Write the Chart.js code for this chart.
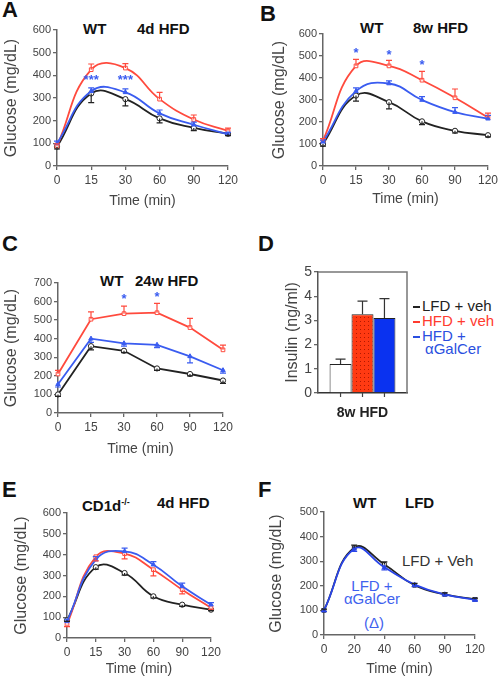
<!DOCTYPE html>
<html>
<head>
<meta charset="utf-8">
<script src="https://cdn.jsdelivr.net/npm/chart.js@4.4.1/dist/chart.umd.min.js"></script>
<style>
  html, body { margin: 0; padding: 0; overflow: hidden; background: #fff; }
  body { width: 500px; height: 680px; position: relative; font-family: 'Liberation Sans', Arial, sans-serif; }
  canvas { position: absolute; }
  .lt { position: absolute; font-weight: bold; font-size: 22px; line-height: 22px; color: #111; }
  .ti { position: absolute; font-weight: bold; font-size: 15px; line-height: 15px; color: #111; white-space: nowrap; }
  .tx { position: absolute; font-size: 15px; line-height: 15px; white-space: nowrap; }
  .dash { display: inline-block; width: 7px; height: 2px; vertical-align: middle; margin-right: 2px; }
  sup { font-size: 9px; }
</style>
</head>
<body>
<div class="lt" style="left:2px;top:-1px">A</div>
<div class="lt" style="left:260px;top:3px">B</div>
<div class="lt" style="left:2px;top:233px">C</div>
<div class="lt" style="left:258px;top:233px">D</div>
<div class="lt" style="left:2px;top:479px">E</div>
<div class="lt" style="left:258px;top:479px">F</div>

<div class="ti" style="left:83px;top:21px">WT</div>
<div class="ti" style="left:137px;top:21px">4d HFD</div>
<div class="ti" style="left:360px;top:20px">WT</div>
<div class="ti" style="left:413px;top:20px">8w HFD</div>
<div class="ti" style="left:100px;top:273px">WT</div>
<div class="ti" style="left:135px;top:273px">24w HFD</div>
<div class="ti" style="left:82px;top:495px">CD1d<sup>-/-</sup></div>
<div class="ti" style="left:157px;top:495px">4d HFD</div>
<div class="ti" style="left:353px;top:495px">WT</div>
<div class="ti" style="left:405px;top:495px">LFD</div>

<div class="tx" style="left:413px;top:298px;color:#222"><span class="dash" style="background:#222"></span>LFD + veh</div>
<div class="tx" style="left:413px;top:313px;color:#ff3b2f"><span class="dash" style="background:#ff3b2f"></span>HFD + veh</div>
<div class="tx" style="left:413px;top:328px;color:#2a4fe0"><span class="dash" style="background:#2a4fe0"></span>HFD +</div>
<div class="tx" style="left:425px;top:341px;color:#2a4fe0">αGalCer</div>

<div class="tx" style="left:402px;top:553px;color:#333">LFD + Veh</div>
<div class="tx" style="left:332px;top:578px;width:80px;text-align:center;color:#3f62ee">LFD +</div>
<div class="tx" style="left:332px;top:591px;width:80px;text-align:center;color:#3f62ee">αGalCer</div>
<div class="tx" style="left:334px;top:615px;width:80px;text-align:center;color:#3f62ee">(Δ)</div>

<canvas id="chartA"></canvas>
<canvas id="chartB"></canvas>
<canvas id="chartC"></canvas>
<canvas id="chartD"></canvas>
<canvas id="chartE"></canvas>
<canvas id="chartF"></canvas>

<script>
// time points
const timesHFD = ['0', '15', '30', '60', '90', '120'];
const timesLFD = ['0', '20', '40', '60', '90', '120'];

// A: WT 4d HFD
const lfdA = [85, 320, 295, 210, 168, 142];
const hfdA = [88, 425, 432, 295, 205, 155];
const galA = [100, 330, 325, 232, 182, 140];
const lfdErrA = [10, 40, 30, 20, 12, 8];
const hfdErrA = [10, 25, 20, 30, 20, 12];
const galErrA = [10, 15, 15, 15, 12, 8];
const starsA = [{i: 1, y: 390, text: '***'}, {i: 2, y: 390, text: '***'}];

// B: WT 8w HFD
const lfdB = [100, 320, 290, 203, 160, 140];
const hfdB = [115, 455, 455, 390, 310, 220];
const galB = [110, 340, 375, 300, 245, 215];
const lfdErrB = [10, 25, 30, 15, 10, 8];
const hfdErrB = [10, 30, 25, 40, 40, 20];
const galErrB = [8, 15, 12, 15, 20, 15];
const starsB = [{i: 1, y: 525, text: '*'}, {i: 2, y: 515, text: '*'}, {i: 3, y: 470, text: '*'}];

// C: WT 24w HFD
const lfdC = [100, 360, 335, 240, 210, 175];
const hfdC = [210, 505, 535, 540, 460, 340];
const galC = [155, 400, 375, 367, 305, 230];
const lfdErrC = [10, 20, 10, 10, 10, 15];
const hfdErrC = [20, 40, 40, 50, 50, 25];
const galErrC = [15, 20, 15, 15, 35, 15];
const starsC = [{i: 2, y: 630, text: '*'}, {i: 3, y: 640, text: '*'}];

// D: insulin, 8w HFD
const insulinCats = ['8w HFD'];
const insulinGroups = ['LFD + veh', 'HFD + veh', 'HFD + αGalCer'];
const insulinVals = [1.2, 3.25, 3.1];
const insulinErr = [0.2, 0.55, 0.8];

// E: CD1d-/- 4d HFD
const lfdE = [85, 340, 312, 200, 160, 136];
const hfdE = [65, 390, 405, 328, 232, 145];
const galE = [80, 376, 416, 352, 248, 160];
const lfdErrE = [5, 10, 10, 8, 8, 5];
const hfdErrE = [10, 20, 25, 30, 20, 10];
const galErrE = [10, 15, 15, 15, 15, 10];

// F: WT LFD
const lfdF = [100, 355, 287, 202, 165, 145];
const galF = [100, 350, 275, 205, 165, 143];
const lfdErrF = [5, 10, 10, 8, 6, 5];
const galErrF = [5, 10, 10, 8, 6, 5];

const BLACK = '#222', RED = '#ff4a3d', BLUE = '#3a5cf0', AXIS = '#666';
Chart.defaults.font.family = "'Liberation Sans', Arial, sans-serif";

const errorBars = {
  id: 'errorBars',
  afterDatasetsDraw(chart) {
    const ctx = chart.ctx, yScale = chart.scales.y;
    chart.data.datasets.forEach((ds, i) => {
      if (!ds.errors) return;
      chart.getDatasetMeta(i).data.forEach((el, j) => {
        const yEnd = yScale.getPixelForValue(ds.data[j] + ds.errDir * ds.errors[j]);
        const cap = ds.capW || 3;
        ctx.save();
        ctx.strokeStyle = ds.errColor || ds.borderColor;
        ctx.lineWidth = 1.2;
        ctx.beginPath();
        ctx.moveTo(el.x, el.y); ctx.lineTo(el.x, yEnd);
        ctx.moveTo(el.x - cap, yEnd); ctx.lineTo(el.x + cap, yEnd);
        ctx.stroke();
        ctx.restore();
      });
    });
  }
};

const stars = {
  id: 'stars',
  afterDraw(chart, args, opts) {
    if (!opts.items) return;
    const ctx = chart.ctx;
    ctx.save();
    ctx.fillStyle = BLUE;
    ctx.font = "bold 13px 'Liberation Sans', Arial, sans-serif";
    ctx.textAlign = 'center';
    ctx.textBaseline = 'middle';
    opts.items.forEach(s => {
      ctx.fillText(s.text, chart.scales.x.getPixelForValue(s.i), chart.scales.y.getPixelForValue(s.y) + 3);
    });
    ctx.restore();
  }
};

function series(label, data, errors, errDir, color, style) {
  return {
    label, data, errors, errDir,
    borderColor: color, backgroundColor: color,
    pointStyle: style, pointRadius: 2.6, pointBorderWidth: 1,
    pointBackgroundColor: style === 'triangle' ? color : '#fff',
    borderWidth: 1.8
  };
}

// g = plot box on the page
function glucoseChart(id, g, labels, datasets, yMax, tension, starItems) {
  const cv = document.getElementById(id);
  const cl = Math.round(g.yTitleX - (16 * 1.2 / 2 + 4));
  const ct = g.top - 14;
  const cb = Math.round(g.xTitleY + 14 * 1.2 / 2 + 4);
  const cr = g.right + 18;
  cv.width = cr - cl; cv.height = cb - ct;
  cv.style.left = cl + 'px'; cv.style.top = ct + 'px';
  const yW = g.left - cl, xH = cb - g.bottom;
  const grid = {display: true, drawOnChartArea: false, tickLength: 4, color: AXIS, lineWidth: 1.3};
  return new Chart(cv.getContext('2d'), {
    type: 'line',
    data: {labels, datasets},
    options: {
      responsive: false,
      animation: false,
      layout: {padding: {top: 14, right: 18, left: 0, bottom: 0}},
      elements: {line: {tension}},
      plugins: {legend: {display: false}, tooltip: {enabled: false}, stars: {items: starItems}},
      scales: {
        x: {
          type: 'category', offset: false, grid,
          border: {color: AXIS, width: 1.5},
          ticks: {padding: 3, font: {size: 12}, color: '#444', maxRotation: 0, autoSkip: false},
          title: {display: true, text: 'Time (min)', font: {size: 14}, color: '#444', padding: {top: 0, bottom: 4}},
          afterFit: s => { s.height = xH; }
        },
        y: {
          min: 0, max: yMax, grid,
          border: {color: AXIS, width: 1.5},
          ticks: {stepSize: 100, padding: 2, font: {size: 11}, color: '#444'},
          title: {display: true, text: 'Glucose (mg/dL)', font: {size: 16}, color: '#444', padding: {top: 4, bottom: 0}},
          afterFit: s => { s.width = yW; }
        }
      }
    },
    plugins: [errorBars, stars]
  });
}

glucoseChart('chartA', {left: 57, right: 228, top: 30, bottom: 166, yTitleX: 12, xTitleY: 202}, timesHFD, [
  series('HFD + αGalCer', galA, galErrA, 1, BLUE, 'triangle'),
  series('HFD + veh', hfdA, hfdErrA, 1, RED, 'rect'),
  series('LFD + veh', lfdA, lfdErrA, -1, BLACK, 'circle')
], 600, 0.45, starsA);

glucoseChart('chartB', {left: 323, right: 488, top: 34, bottom: 166, yTitleX: 280, xTitleY: 200}, timesHFD, [
  series('HFD + αGalCer', galB, galErrB, 1, BLUE, 'triangle'),
  series('HFD + veh', hfdB, hfdErrB, 1, RED, 'rect'),
  series('LFD + veh', lfdB, lfdErrB, -1, BLACK, 'circle')
], 600, 0.45, starsB);

glucoseChart('chartC', {left: 58, right: 223, top: 283, bottom: 413, yTitleX: 12, xTitleY: 450}, timesHFD, [
  series('HFD + αGalCer', galC, galErrC, -1, BLUE, 'triangle'),
  series('HFD + veh', hfdC, hfdErrC, 1, RED, 'rect'),
  series('LFD + veh', lfdC, lfdErrC, -1, BLACK, 'circle')
], 700, 0, starsC);

glucoseChart('chartE', {left: 67, right: 211, top: 513, bottom: 638, yTitleX: 22, xTitleY: 670}, timesHFD, [
  series('HFD + αGalCer', galE, galErrE, 1, BLUE, 'triangle'),
  series('HFD + veh', hfdE, hfdErrE, -1, RED, 'rect'),
  series('LFD + veh', lfdE, lfdErrE, -1, BLACK, 'circle')
], 600, 0.45, []);

glucoseChart('chartF', {left: 324, right: 475, top: 512, bottom: 635, yTitleX: 277, xTitleY: 670}, timesLFD, [
  series('LFD + αGalCer', galF, galErrF, -1, '#2a45e8', 'triangle'),
  series('LFD + Veh', lfdF, lfdErrF, 1, BLACK, 'rect')
], 500, 0.45, []);

// D: bar chart
function dotPattern() {
  const p = document.createElement('canvas');
  p.width = 4; p.height = 4;
  const c = p.getContext('2d');
  c.fillStyle = '#ff3a12'; c.fillRect(0, 0, 4, 4);
  c.fillStyle = '#b01800'; c.fillRect(1, 1, 1, 1);
  return c.createPattern(p, 'repeat');
}

const frame = {
  id: 'frame',
  afterDraw(chart) {
    const {ctx, chartArea: a} = chart;
    ctx.save();
    ctx.strokeStyle = '#777'; ctx.lineWidth = 1.5;
    ctx.beginPath();
    ctx.moveTo(a.left, a.top); ctx.lineTo(a.right, a.top); ctx.lineTo(a.right, a.bottom);
    ctx.stroke();
    ctx.strokeStyle = '#444'; ctx.lineWidth = 1.2;
    chart.data.datasets.forEach((ds, i) => {
      chart.getDatasetMeta(i).data.forEach(el => {
        ctx.beginPath(); ctx.moveTo(el.x, a.bottom); ctx.lineTo(el.x, a.bottom + 4); ctx.stroke();
      });
    });
    ctx.restore();
  }
};

(function () {
  const g = {left: 318, right: 407, top: 272, bottom: 393, yTitleX: 293};
  const cv = document.getElementById('chartD');
  const cl = Math.round(g.yTitleX - (16 * 1.2 / 2 + 4));
  const ct = g.top - 12, cb = g.bottom + 32, cr = g.right + 6;
  cv.width = cr - cl; cv.height = cb - ct;
  cv.style.left = cl + 'px'; cv.style.top = ct + 'px';
  const yW = g.left - cl, xH = cb - g.bottom;
  const fills = ['#ffffff', dotPattern(), '#0a32f0'];
  new Chart(cv.getContext('2d'), {
    type: 'bar',
    data: {
      labels: insulinCats,
      datasets: insulinGroups.map((name, k) => ({
        label: name, data: [insulinVals[k]], errors: [insulinErr[k]], errDir: 1,
        backgroundColor: fills[k], borderColor: '#222', borderWidth: 1,
        errColor: '#333', capW: 5,
        categoryPercentage: 0.74, barPercentage: 1
      }))
    },
    options: {
      responsive: false,
      animation: false,
      layout: {padding: {top: 12, right: 6, left: 0, bottom: 0}},
      plugins: {legend: {display: false}, tooltip: {enabled: false}},
      scales: {
        x: {
          grid: {display: false, drawTicks: false},
          border: {color: '#333', width: 1.5},
          ticks: {padding: 12, font: {size: 14, weight: 'bold'}, color: '#222'},
          afterFit: s => { s.height = xH; }
        },
        y: {
          min: 0, max: 5,
          grid: {display: true, drawOnChartArea: false, tickLength: 4, color: AXIS, lineWidth: 1.3},
          border: {color: '#555', width: 1.5},
          ticks: {stepSize: 1, padding: 2, font: {size: 14}, color: '#444'},
          title: {display: true, text: 'Insulin (ng/ml)', font: {size: 16}, color: '#444', padding: {top: 4, bottom: 0}},
          afterFit: s => { s.width = yW; }
        }
      }
    },
    plugins: [errorBars, frame]
  });
})();
</script>
</body>
</html>
